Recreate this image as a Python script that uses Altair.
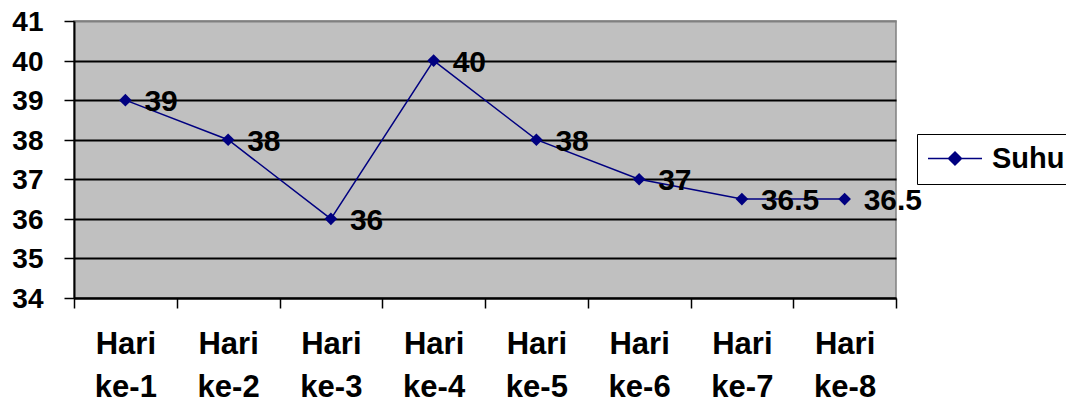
import altair as alt
import pandas as pd

days = ["Hari ke-1", "Hari ke-2", "Hari ke-3", "Hari ke-4",
        "Hari ke-5", "Hari ke-6", "Hari ke-7", "Hari ke-8"]
suhu = [39, 38, 36, 40, 38, 37, 36.5, 36.5]
series = ["Suhu"] * len(days)
y_ticks = [34, 35, 36, 37, 38, 39, 40, 41]

df = pd.DataFrame({
    "hari": days,
    "suhu": suhu,
    "series": series,
    "label": [f"{v:g}" for v in suhu],
})

FONT = "Liberation Sans"
NAVY = "#000080"

x_enc = alt.X(
    "hari:O", sort=days, bandPosition=0.5,
    scale=alt.Scale(type="band", paddingInner=0, paddingOuter=0),
    axis=alt.Axis(
        title=None, labelAngle=0, tickBand="extent", tickSize=10,
        tickColor="black", tickWidth=1.5, domainColor="black", domainWidth=2,
        labelFont=FONT, labelFontSize=31, labelFontWeight="bold", labelColor="black",
        labelExpr="split(datum.label, ' ')", labelLineHeight=43,
        labelPadding=21, labelBaseline="top", grid=False,
    ),
)
y_enc = alt.Y(
    "suhu:Q",
    scale=alt.Scale(domain=[34, 41], nice=False, zero=False),
    axis=alt.Axis(
        title=None, values=y_ticks, tickSize=10, tickColor="black", tickWidth=1.5,
        domainColor="black", domainWidth=2,
        labelFont=FONT, labelFontSize=28, labelFontWeight="bold", labelColor="black",
        labelPadding=21, labelOffset=1.5, grid=True, gridWidth=2,
        gridColor={"condition": {"test": "datum.value == 41", "value": "#808080"},
                   "value": "black"},
    ),
)
color_enc = alt.Color(
    "series:N", scale=alt.Scale(range=[NAVY]),
    legend=alt.Legend(
        title=None, orient="none", legendX=843, legendY=113,
        symbolType="M-1,0L3,0M1,-0.48L1.48,0L1,0.48L0.52,0Z",
        symbolSize=729, symbolFillColor=NAVY, symbolStrokeColor=NAVY,
        symbolStrokeWidth=1.5, labelFont=FONT, labelFontSize=29,
        labelFontWeight="bold", labelColor="black", labelOffset=36,
        padding=10, strokeColor="black", fillColor="white",
    ),
)

base = alt.Chart(df)
line = base.mark_line(strokeWidth=1.5).encode(x=x_enc, y=y_enc, color=color_enc)
pts = base.mark_point(shape="diamond", filled=True, size=160, opacity=1).encode(
    x=x_enc, y=y_enc, color=color_enc)
txt = base.mark_text(dx=19, dy=2, align="left", baseline="middle", font=FONT,
                     fontSize=30, fontWeight="bold", color="black").encode(
    x=x_enc, y=y_enc, text="label:N")

chart = alt.layer(line, pts, txt).properties(
    width=822, height=277,
    autosize=alt.AutoSizeParams(type="none"),
    padding={"left": 66, "top": 13, "right": 170, "bottom": 104},
).configure_view(fill="#C0C0C0", stroke="#808080", strokeWidth=1.5)

chart.save("out.html", embed_options={"renderer": "svg", "actions": False})
